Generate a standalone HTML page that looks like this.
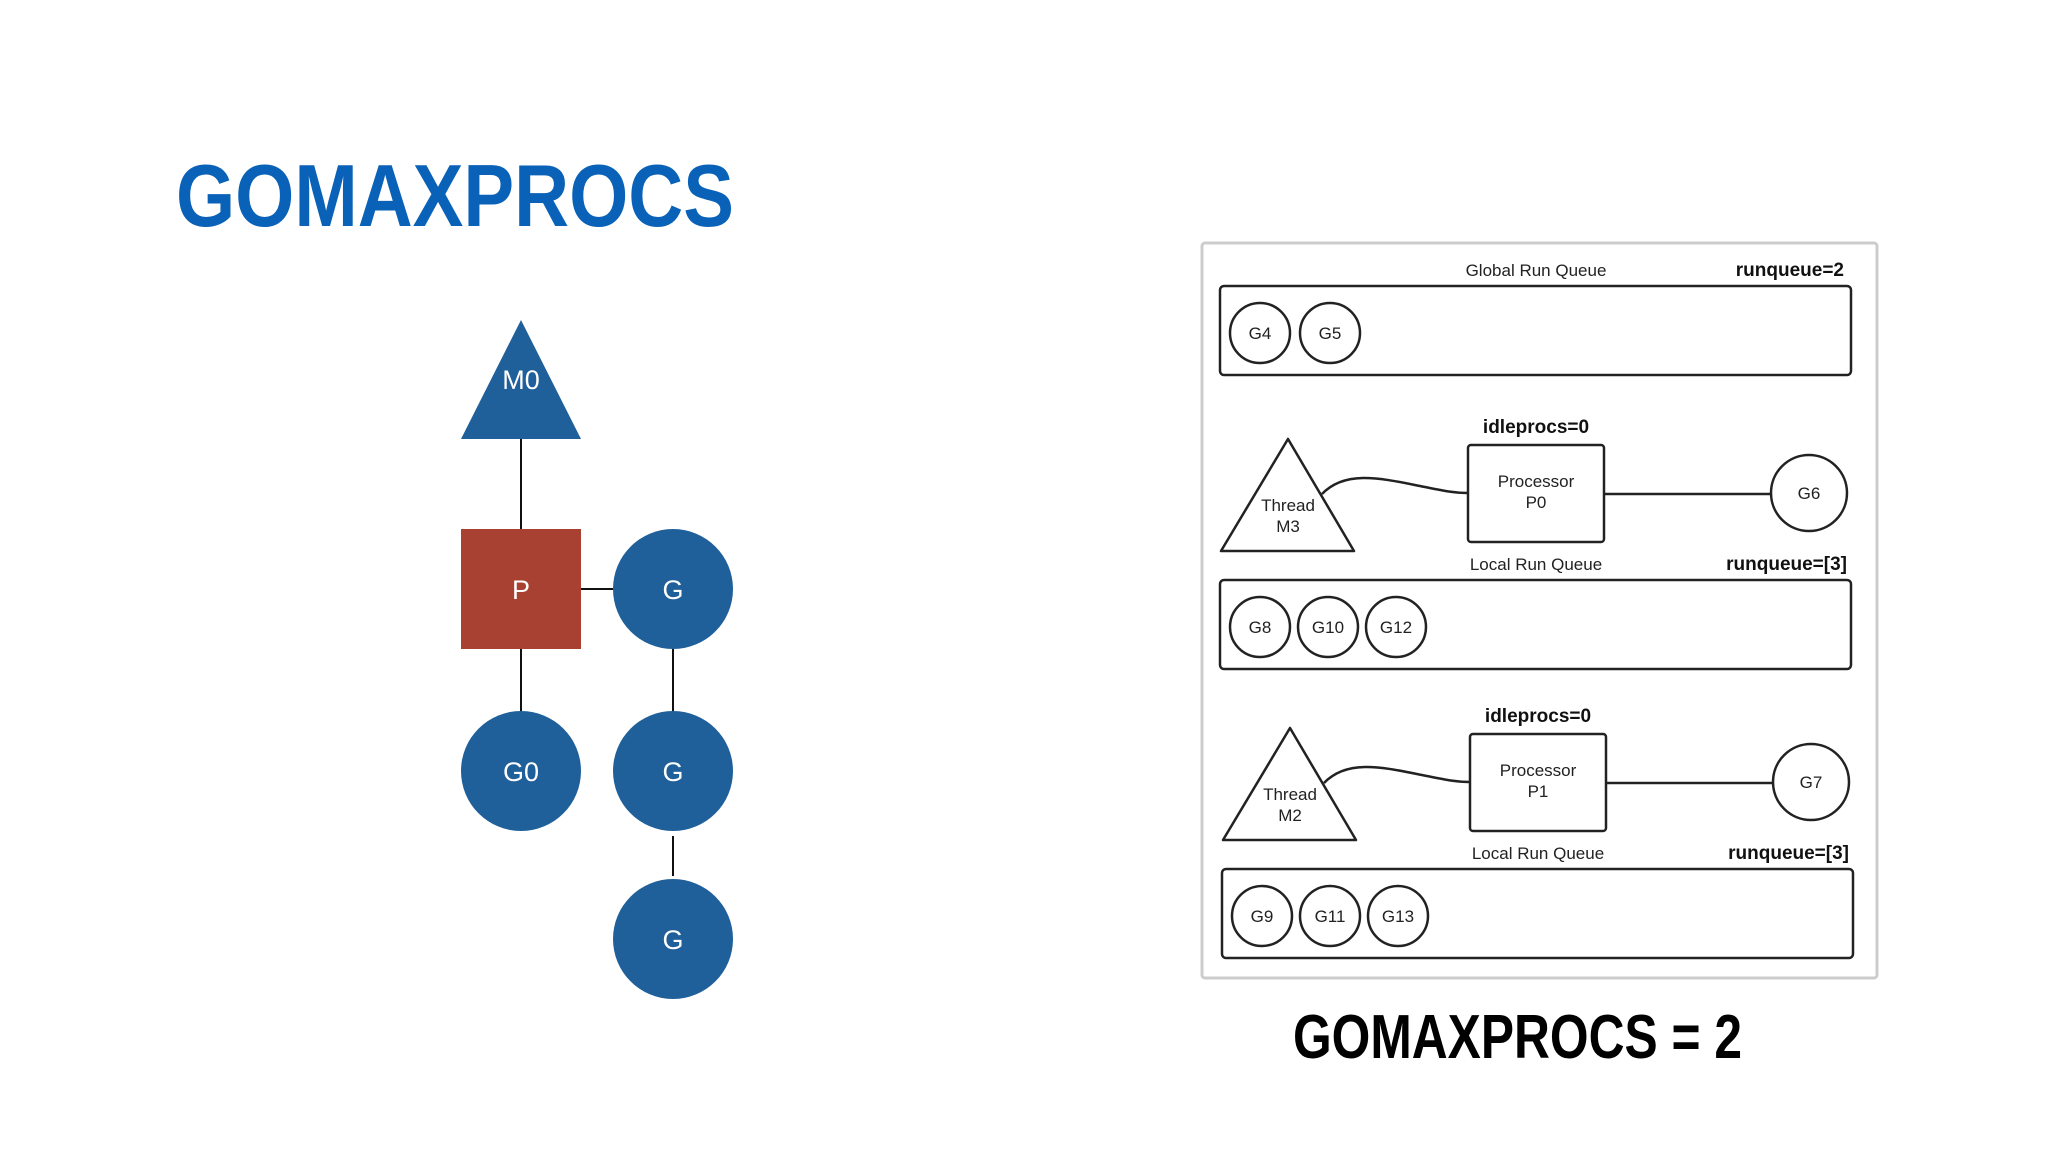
<!DOCTYPE html>
<html><head><meta charset="utf-8"><style>
html,body{margin:0;padding:0;background:#fff;}
svg{display:block;}
</style></head><body>
<svg width="2048" height="1152" viewBox="0 0 2048 1152" xmlns="http://www.w3.org/2000/svg" font-family="Liberation Sans, Arial, sans-serif">
<rect width="2048" height="1152" fill="#fff"/>
<text x="176" y="226" font-size="88" font-weight="bold" fill="#0a62b8" textLength="558" lengthAdjust="spacingAndGlyphs">GOMAXPROCS</text>

<!-- left diagram -->
<g stroke="#111" stroke-width="2">
<line x1="521" y1="439" x2="521" y2="529"/>
<line x1="581" y1="589" x2="613" y2="589"/>
<line x1="521" y1="649" x2="521" y2="712"/>
<line x1="673" y1="649" x2="673" y2="712"/>
<line x1="673" y1="836" x2="673" y2="876"/>
</g>
<polygon points="521,320 581,439 461,439" fill="#1f5f9a"/>
<rect x="461" y="529" width="120" height="120" fill="#a84131"/>
<g fill="#1f5f9a">
<circle cx="673" cy="589" r="60"/>
<circle cx="521" cy="771" r="60"/>
<circle cx="673" cy="771" r="60"/>
<circle cx="673" cy="939" r="60"/>
</g>
<g fill="#fff" font-size="27" text-anchor="middle">
<text x="521" y="389">M0</text>
<text x="521" y="599">P</text>
<text x="673" y="599">G</text>
<text x="521" y="781">G0</text>
<text x="673" y="781">G</text>
<text x="673" y="949">G</text>
</g>

<!-- right panel -->
<rect x="1202" y="243" width="675" height="735" fill="#fff" stroke="#ccc" stroke-width="3" rx="3"/>
<g font-size="17" fill="#222" text-anchor="middle">
<text x="1536" y="276">Global Run Queue</text>
</g>
<text x="1844" y="276" font-size="19" font-weight="bold" text-anchor="end" fill="#111">runqueue=2</text>
<rect x="1220" y="286" width="631" height="89" rx="4" fill="none" stroke="#222" stroke-width="2.5"/>
<g fill="none" stroke="#222" stroke-width="2.5">
<circle cx="1260" cy="333" r="30"/><circle cx="1330" cy="333" r="30"/>
</g>
<g font-size="17" fill="#222" text-anchor="middle">
<text x="1260" y="339">G4</text><text x="1330" y="339">G5</text>
</g>

<g id="sec">
<text x="1536" y="433" font-size="19" font-weight="bold" text-anchor="middle" fill="#111">idleprocs=0</text>
<polygon points="1288,439 1354,551 1221,551" fill="none" stroke="#222" stroke-width="2.5" stroke-linejoin="round"/>
<path d="M1322,494 C1345,470 1380,478 1420,486 C1440,490 1452,493 1468,493" fill="none" stroke="#222" stroke-width="2.5"/>
<rect x="1468" y="445" width="136" height="97" rx="3" fill="none" stroke="#222" stroke-width="2.5"/>
<line x1="1604" y1="494" x2="1771" y2="494" stroke="#222" stroke-width="2.5"/>
<circle cx="1809" cy="493" r="38" fill="none" stroke="#222" stroke-width="2.5"/>
<g font-size="17" fill="#222" text-anchor="middle">
<text x="1288" y="511">Thread</text><text x="1288" y="532">M3</text>
<text x="1536" y="487">Processor</text><text x="1536" y="508">P0</text>
<text x="1809" y="499">G6</text>
<text x="1536" y="570">Local Run Queue</text>
</g>
<text x="1847" y="570" font-size="19" font-weight="bold" text-anchor="end" fill="#111">runqueue=[3]</text>
<rect x="1220" y="580" width="631" height="89" rx="4" fill="none" stroke="#222" stroke-width="2.5"/>
<g fill="none" stroke="#222" stroke-width="2.5">
<circle cx="1260" cy="627" r="30"/><circle cx="1328" cy="627" r="30"/><circle cx="1396" cy="627" r="30"/>
</g>
<g font-size="17" fill="#222" text-anchor="middle">
<text x="1260" y="633">G8</text><text x="1328" y="633">G10</text><text x="1396" y="633">G12</text>
</g>
</g>

<g transform="translate(2,289)">
<text x="1536" y="433" font-size="19" font-weight="bold" text-anchor="middle" fill="#111">idleprocs=0</text>
<polygon points="1288,439 1354,551 1221,551" fill="none" stroke="#222" stroke-width="2.5" stroke-linejoin="round"/>
<path d="M1322,494 C1345,470 1380,478 1420,486 C1440,490 1452,493 1468,493" fill="none" stroke="#222" stroke-width="2.5"/>
<rect x="1468" y="445" width="136" height="97" rx="3" fill="none" stroke="#222" stroke-width="2.5"/>
<line x1="1604" y1="494" x2="1771" y2="494" stroke="#222" stroke-width="2.5"/>
<circle cx="1809" cy="493" r="38" fill="none" stroke="#222" stroke-width="2.5"/>
<g font-size="17" fill="#222" text-anchor="middle">
<text x="1288" y="511">Thread</text><text x="1288" y="532">M2</text>
<text x="1536" y="487">Processor</text><text x="1536" y="508">P1</text>
<text x="1809" y="499">G7</text>
<text x="1536" y="570">Local Run Queue</text>
</g>
<text x="1847" y="570" font-size="19" font-weight="bold" text-anchor="end" fill="#111">runqueue=[3]</text>
<rect x="1220" y="580" width="631" height="89" rx="4" fill="none" stroke="#222" stroke-width="2.5"/>
<g fill="none" stroke="#222" stroke-width="2.5">
<circle cx="1260" cy="627" r="30"/><circle cx="1328" cy="627" r="30"/><circle cx="1396" cy="627" r="30"/>
</g>
<g font-size="17" fill="#222" text-anchor="middle">
<text x="1260" y="633">G9</text><text x="1328" y="633">G11</text><text x="1396" y="633">G13</text>
</g>
</g>

<text x="1293" y="1058" font-size="62" font-weight="bold" fill="#000" textLength="449" lengthAdjust="spacingAndGlyphs">GOMAXPROCS = 2</text>
</svg>
</body></html>
